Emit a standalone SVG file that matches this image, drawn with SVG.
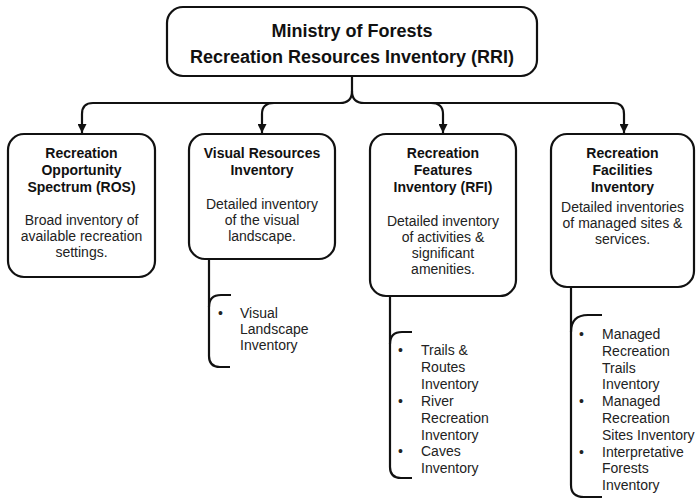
<svg xmlns="http://www.w3.org/2000/svg" width="696" height="504" viewBox="0 0 696 504">
<defs>
<style>
.box{fill:#fff;stroke:#111;stroke-width:2.2}
.ln{fill:none;stroke:#111;stroke-width:2.2}
.t{font-family:"Liberation Sans",Arial,sans-serif;font-weight:bold;font-size:14px;fill:#111;text-anchor:middle}
.big{font-size:18px}
.b{font-family:"Liberation Sans",Arial,sans-serif;font-size:14px;fill:#222;text-anchor:middle}
.l{font-family:"Liberation Sans",Arial,sans-serif;font-size:14px;fill:#222}
</style>
<marker id="ah" viewBox="0 0 10 10" refX="10" refY="5" markerWidth="9" markerHeight="9" markerUnits="userSpaceOnUse" orient="auto">
<path d="M0,0 L10,5 L0,10 z" fill="#111"/>
</marker>
</defs>
<rect width="696" height="504" fill="#fff"/>

<g id="connectors">
<path class="ln" d="M352,76 V91 Q352,103 340,103 H93 Q82,103 82,114 V133" marker-end="url(#ah)"/>
<path class="ln" d="M352,91 Q352,103 364,103 H613 Q624,103 624,114 V133" marker-end="url(#ah)"/>
<path class="ln" d="M274,103 Q262,103 262,114 V133" marker-end="url(#ah)"/>
<path class="ln" d="M431,103 Q443,103 443,114 V133" marker-end="url(#ah)"/>
<path class="ln" d="M209,259 V356 Q209,367 220,367 H230"/>
<path class="ln" d="M231,295 H221 Q209,295 209,307"/>
<path class="ln" d="M390,296 V467 Q390,478 401,478 H412"/>
<path class="ln" d="M412,332 H402 Q390,332 390,344"/>
<path class="ln" d="M571,287 V485 Q571,497 584,497 H602"/>
<path class="ln" d="M602,315 H588 Q571,315 571,332"/>
</g>

<g id="rri">
<rect class="box" x="167" y="7" width="370" height="69" rx="16"/>
<text class="t big" x="352" y="37">Ministry of Forests</text>
<text class="t big" x="352" y="63">Recreation Resources Inventory (RRI)</text>
</g>

<g id="ros">
<rect class="box" x="8" y="134" width="147" height="143" rx="16"/>
<text class="t" x="81.5" y="158">Recreation</text>
<text class="t" x="81.5" y="175">Opportunity</text>
<text class="t" x="81.5" y="192">Spectrum (ROS)</text>
<text class="b" x="81.5" y="225">Broad inventory of</text>
<text class="b" x="81.5" y="241">available recreation</text>
<text class="b" x="81.5" y="257">settings.</text>
</g>

<g id="vri">
<rect class="box" x="189" y="134" width="146" height="125" rx="16"/>
<text class="t" x="262" y="158">Visual Resources</text>
<text class="t" x="262" y="175">Inventory</text>
<text class="b" x="262" y="209">Detailed inventory</text>
<text class="b" x="262" y="225">of the visual</text>
<text class="b" x="262" y="241">landscape.</text>
</g>

<g id="rfi">
<rect class="box" x="370" y="134" width="146" height="162" rx="16"/>
<text class="t" x="443" y="158">Recreation</text>
<text class="t" x="443" y="175">Features</text>
<text class="t" x="443" y="192">Inventory (RFI)</text>
<text class="b" x="443" y="226">Detailed inventory</text>
<text class="b" x="443" y="242">of activities &amp;</text>
<text class="b" x="443" y="258">significant</text>
<text class="b" x="443" y="274">amenities.</text>
</g>

<g id="rfacilities">
<rect class="box" x="551" y="134" width="143" height="153" rx="16"/>
<text class="t" x="622.5" y="158">Recreation</text>
<text class="t" x="622.5" y="175">Facilities</text>
<text class="t" x="622.5" y="192">Inventory</text>
<text class="b" x="622.5" y="212">Detailed inventories</text>
<text class="b" x="622.5" y="228">of managed sites &amp;</text>
<text class="b" x="622.5" y="244">services.</text>
</g>

<g id="vri-list">
<text class="l" x="218" y="318">•</text>
<text class="l" x="240" y="318">Visual</text>
<text class="l" x="240" y="334">Landscape</text>
<text class="l" x="240" y="350">Inventory</text>
</g>

<g id="rfi-list">
<text class="l" x="398" y="355">•</text>
<text class="l" x="421" y="355">Trails &amp;</text>
<text class="l" x="421" y="372">Routes</text>
<text class="l" x="421" y="389">Inventory</text>
<text class="l" x="398" y="406">•</text>
<text class="l" x="421" y="406">River</text>
<text class="l" x="421" y="423">Recreation</text>
<text class="l" x="421" y="440">Inventory</text>
<text class="l" x="398" y="456">•</text>
<text class="l" x="421" y="456">Caves</text>
<text class="l" x="421" y="473">Inventory</text>
</g>

<g id="facilities-list">
<text class="l" x="579" y="339">•</text>
<text class="l" x="602" y="339">Managed</text>
<text class="l" x="602" y="356">Recreation</text>
<text class="l" x="602" y="373">Trails</text>
<text class="l" x="602" y="389">Inventory</text>
<text class="l" x="579" y="406">•</text>
<text class="l" x="602" y="406">Managed</text>
<text class="l" x="602" y="423">Recreation</text>
<text class="l" x="602" y="440">Sites Inventory</text>
<text class="l" x="579" y="457">•</text>
<text class="l" x="602" y="457">Interpretative</text>
<text class="l" x="602" y="473">Forests</text>
<text class="l" x="602" y="490">Inventory</text>
</g>
</svg>
